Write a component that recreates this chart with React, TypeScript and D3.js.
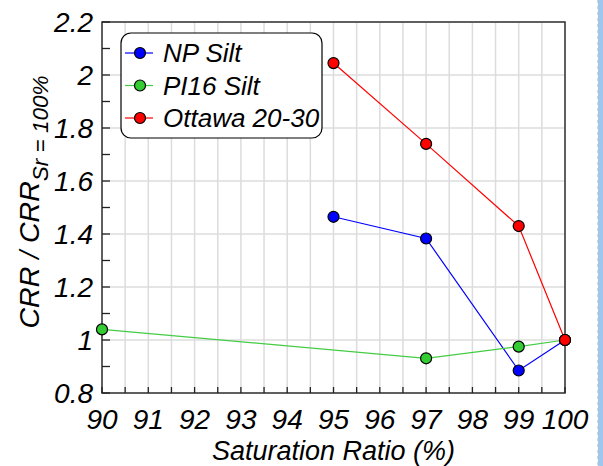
import React from 'react';
import { scaleLinear, line, range } from 'd3';

const width = 603;
const height = 466;

// saturation ratio (%) for each series
const npSiltX = [95, 97, 99, 100];
const npSiltY = [1.465, 1.383, 0.885, 1.0];
const pi16SiltX = [90, 97, 99, 100];
const pi16SiltY = [1.04, 0.931, 0.975, 1.0];
const ottawaX = [95, 97, 99, 100];
const ottawaY = [2.045, 1.74, 1.43, 1.0];

const seriesNames = ['NP Silt', 'PI16 Silt', 'Ottawa 20-30'];
const xTicks = [90, 91, 92, 93, 94, 95, 96, 97, 98, 99, 100];
const yTicks = [0.8, 1.0, 1.2, 1.4, 1.6, 1.8, 2.0, 2.2];

const dims = {
    left: 102,
    right: 565,
    top: 22,
    bottom: 393,
}

const colors = [
    { line: '#0000ff', fill: '#0000ff' },
    { line: '#44cc44', fill: '#33cc33' },
    { line: '#ff0000', fill: '#ff0000' },
];

const font = '"Liberation Sans", Arial, sans-serif';

const App = () => {
    const x = scaleLinear().domain([90, 100]).range([dims.left, dims.right]);
    const y = scaleLinear().domain([0.8, 2.2]).range([dims.bottom, dims.top]);

    const series = [
        { xs: npSiltX, ys: npSiltY },
        { xs: pi16SiltX, ys: pi16SiltY },
        { xs: ottawaX, ys: ottawaY },
    ];

    const path = line<[number, number]>().x(d => x(d[0])).y(d => y(d[1]));

    const xMinor = range(90, 100.01, 0.5);
    const yMinor = range(0.8, 2.201, 0.1);

    return (
        <svg width={width} height={height} style={{ position: 'absolute', left: 0, top: 0, background: '#fff' }}>
            {/* grid */}
            {xMinor.map(v => (
                <line key={'gx' + v} x1={x(v)} x2={x(v)} y1={dims.top} y2={dims.bottom} stroke="#dcdcdc" strokeWidth={1.5} />
            ))}
            {yTicks.map(v => (
                <line key={'gy' + v} x1={dims.left} x2={dims.right} y1={y(v)} y2={y(v)} stroke="#dcdcdc" strokeWidth={1.5} />
            ))}

            {/* frame */}
            <rect x={dims.left} y={dims.top} width={dims.right - dims.left} height={dims.bottom - dims.top}
                fill="none" stroke="#333" strokeWidth={1.5} />

            {/* inward ticks */}
            {xMinor.map(v => (
                <line key={'tx' + v} x1={x(v)} x2={x(v)} y1={dims.bottom} y2={dims.bottom - 6} stroke="#222" strokeWidth={1.3} />
            ))}
            {yMinor.map(v => (
                <line key={'ty' + v} x1={dims.left} x2={dims.left + 8} y1={y(v)} y2={y(v)} stroke="#222" strokeWidth={1.3} />
            ))}

            {/* tick labels */}
            {xTicks.map(v => (
                <text key={'lx' + v} x={x(v)} y={dims.bottom + 36} textAnchor="middle"
                    fontFamily={font} fontStyle="italic" fontSize={28} fill="#000">{v}</text>
            ))}
            {yTicks.map(v => (
                <text key={'ly' + v} x={93} y={y(v) + 10} textAnchor="end"
                    fontFamily={font} fontStyle="italic" fontSize={28} fill="#000">{+v.toFixed(1)}</text>
            ))}

            {/* axis titles */}
            <text x={(dims.left + dims.right) / 2} y={460} textAnchor="middle"
                fontFamily={font} fontStyle="italic" fontSize={27} fill="#000">Saturation Ratio (%)</text>
            <text transform={`translate(39, 202) rotate(-90)`} textAnchor="middle"
                fontFamily={font} fontStyle="italic" fontSize={28.5} fill="#000">
                CRR / CRR<tspan fontSize={22.5} dy={9}>Sr = 100%</tspan>
            </text>

            {/* series */}
            {series.map((s, i) => (
                <path key={'p' + i} d={path(s.xs.map((v, j) => [v, s.ys[j]]))!} fill="none"
                    stroke={colors[i].line} strokeWidth={1.2} />
            ))}
            {series.map((s, i) => s.xs.map((v, j) => (
                <circle key={'c' + i + j} cx={x(v)} cy={y(s.ys[j])} r={5.5}
                    fill={colors[i].fill} stroke="#000" strokeWidth={1.2} />
            )))}

            {/* legend */}
            <rect x={121} y={33} width={201} height={105} rx={10} fill="#fff" stroke="#000" strokeWidth={1.2} />
            {seriesNames.map((name, i) => {
                const ly = 53 + i * 32.5;
                return (
                    <g key={'lg' + i}>
                        <line x1={125} x2={153} y1={ly} y2={ly} stroke={colors[i].line} strokeWidth={1.2} />
                        <circle cx={140} cy={ly} r={5.5} fill={colors[i].fill} stroke="#000" strokeWidth={1.2} />
                        <text x={163} y={ly + 9} fontFamily={font} fontStyle="italic" fontSize={26} fill="#000">{name}</text>
                    </g>
                );
            })}

            {/* right edge strip */}
            <rect x={598} y={0} width={5} height={height} fill="#a0c6ea" />
            <line x1={597.5} x2={597.5} y1={0} y2={height} stroke="#c8d8e8" strokeWidth={1} strokeDasharray="3,3" />
        </svg>
    );
}

export default App;
